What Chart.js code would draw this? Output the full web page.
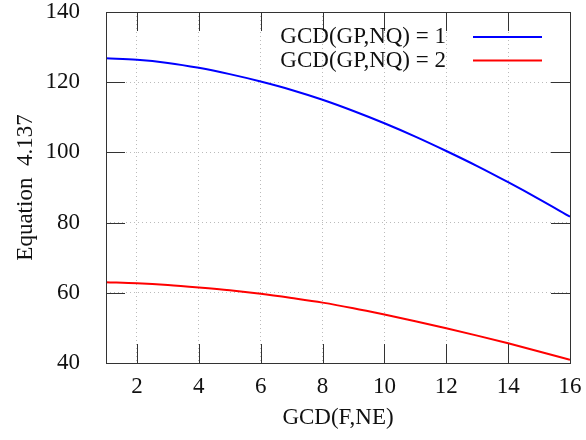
<!DOCTYPE html>
<html>
<head>
<meta charset="utf-8">
<script src="https://cdn.jsdelivr.net/npm/chart.js@4/dist/chart.umd.min.js"></script>
<style>
  html, body { margin: 0; padding: 0; background: #fff; }
  #wrap { width: 586px; height: 440px; }
</style>
</head>
<body>
<div id="wrap"><canvas id="graph" width="586" height="440"></canvas></div>
<script>
const xValues = [1, 2, 3, 4, 5, 6, 7, 8, 9, 10, 11, 12, 13, 14, 15, 16];
const gcd1 = [126.8, 126.4, 125.5, 124.1, 122.3, 120.2, 117.8, 115.0, 111.8, 108.3, 104.5, 100.4, 96.1, 91.5, 86.7, 81.7];
const gcd2 = [63.0, 62.7, 62.2, 61.5, 60.7, 59.7, 58.5, 57.2, 55.6, 53.8, 51.9, 49.9, 47.8, 45.6, 43.3, 40.9];
const xTicks = [2, 4, 6, 8, 10, 12, 14, 16];
const yTicks = [40, 60, 80, 100, 120, 140];
const seriesLabels = ['GCD(GP,NQ) = 1', 'GCD(GP,NQ) = 2'];

const FONT = "'Liberation Serif', 'DejaVu Serif', serif";
const FSIZE = 23;

// frame, inward tick marks and the legend box in the upper right
const framePlugin = {
    id: 'frame',
    afterDatasetsDraw(chart) {
        const ctx = chart.ctx;
        const a = chart.chartArea;
        const xs = chart.scales.x;
        const ys = chart.scales.y;
        const tl = 19;
        ctx.save();
        ctx.strokeStyle = '#333';
        ctx.lineWidth = 1;
        ctx.beginPath();
        xTicks.forEach(v => {
            const px = Math.round(xs.getPixelForValue(v)) + 0.5;
            ctx.moveTo(px, a.bottom); ctx.lineTo(px, a.bottom - tl);
            ctx.moveTo(px, a.top); ctx.lineTo(px, a.top + tl);
        });
        yTicks.forEach(v => {
            const py = Math.round(ys.getPixelForValue(v)) + 0.5;
            ctx.moveTo(a.left, py); ctx.lineTo(a.left + tl, py);
            ctx.moveTo(a.right, py); ctx.lineTo(a.right - tl, py);
        });
        ctx.stroke();
        ctx.strokeRect(Math.round(a.left) + 0.5, Math.round(a.top) + 0.5,
            Math.round(a.right - a.left), Math.round(a.bottom - a.top));

        // legend
        ctx.font = FSIZE + 'px ' + FONT;
        ctx.textAlign = 'right';
        ctx.textBaseline = 'middle';
        chart.data.datasets.forEach((ds, i) => {
            const y = a.top + 25 + i * 23.5;
            ctx.fillStyle = '#111';
            ctx.fillText(ds.label, a.right - 124, y);
            ctx.strokeStyle = ds.borderColor;
            ctx.lineWidth = 2;
            ctx.beginPath();
            ctx.moveTo(a.right - 97, y);
            ctx.lineTo(a.right - 28, y);
            ctx.stroke();
        });
        ctx.restore();
    }
};

const chart = new Chart(
    document.getElementById('graph'),
    {
        type: 'line',
        data: {
            labels: xValues,
            datasets: [
                {
                    label: seriesLabels[0],
                    data: xValues.map((x, i) => ({x: x, y: gcd1[i]})),
                    borderColor: '#0000ff',
                    borderWidth: 2,
                    pointRadius: 0,
                    cubicInterpolationMode: 'monotone',
                    fill: false
                },
                {
                    label: seriesLabels[1],
                    data: xValues.map((x, i) => ({x: x, y: gcd2[i]})),
                    borderColor: '#ff0000',
                    borderWidth: 2,
                    pointRadius: 0,
                    cubicInterpolationMode: 'monotone',
                    fill: false
                }
            ]
        },
        options: {
            responsive: false,
            animation: false,
            layout: {padding: {top: 12, right: 16, left: 0, bottom: 0}},
            plugins: {
                legend: {display: false},
                tooltip: {enabled: false}
            },
            scales: {
                x: {
                    type: 'linear',
                    min: 1,
                    max: 16,
                    afterBuildTicks: s => { s.ticks = xTicks.map(v => ({value: v})); },
                    afterFit: s => {
                        s.height = 77;
                        s.paddingLeft = 0;
                        s.paddingRight = 0;
                    },
                    border: {display: false, dash: [1, 3]},
                    grid: {
                        color: '#bbbbbb',
                        lineWidth: 1,
                        drawTicks: false
                    },
                    ticks: {
                        padding: 10,
                        color: '#111',
                        font: {family: FONT, size: FSIZE}
                    },
                    title: {
                        display: true,
                        text: 'GCD(F,NE)',
                        color: '#111',
                        padding: {top: 0, bottom: 8},
                        font: {family: FONT, size: FSIZE}
                    }
                },
                y: {
                    type: 'linear',
                    min: 40,
                    max: 140,
                    afterBuildTicks: s => { s.ticks = yTicks.map(v => ({value: v})); },
                    afterFit: s => {
                        s.width = 106;
                        s.paddingTop = 0;
                        s.paddingBottom = 0;
                    },
                    border: {display: false, dash: [1, 3]},
                    grid: {
                        color: '#bbbbbb',
                        lineWidth: 1,
                        drawTicks: false
                    },
                    ticks: {
                        padding: 26,
                        color: '#111',
                        font: {family: FONT, size: FSIZE}
                    },
                    title: {
                        display: true,
                        text: 'Equation  4.137',
                        color: '#111',
                        padding: {top: 12, bottom: 0},
                        font: {family: FONT, size: FSIZE}
                    }
                }
            }
        },
        plugins: [framePlugin]
    }
);
</script>
</body>
</html>
